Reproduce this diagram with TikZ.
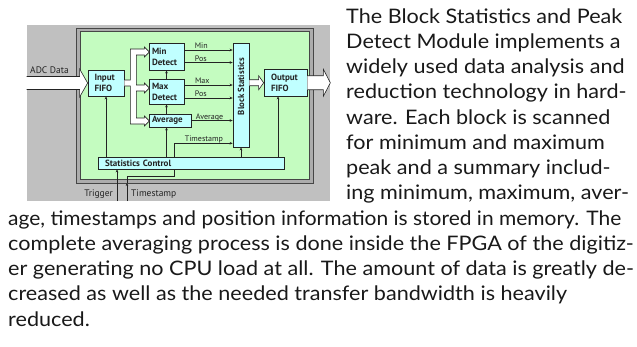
\documentclass[tikz,border=0pt]{standalone}
\usepackage{fontspec}
\usepackage{graphicx}
\newfontfamily\bodyfont{Lato}
\newfontfamily\diafont{PT Sans}
\usetikzlibrary{arrows.meta,calc,backgrounds}
\definecolor{panelgray}{RGB}{192,192,192}
\definecolor{framegray}{RGB}{172,172,172}
\definecolor{frameline}{RGB}{70,70,70}
\definecolor{boardgreen}{RGB}{196,252,192}
\definecolor{blockcyan}{RGB}{192,255,255}
\definecolor{ink}{RGB}{35,35,35}
% description lines: slightly widened, or set to a given width
\newcommand{\bodyline}[1]{\scalebox{1.08}[1]{#1}}
\newcommand{\bodyfit}[2]{\resizebox{#1pt}{\height}{#2}}
\begin{document}
\begin{tikzpicture}[x=1pt,y=-1pt,
  blk/.style={draw=ink, line width=0.7pt, fill=blockcyan, inner ysep=0pt,
    align=left, text=ink, font=\diafont\bfseries\fontsize{9}{11}\selectfont},
  conn/.style={draw=ink, line width=0.6pt, -{Stealth[length=3pt,width=2.6pt]}},
  wire/.style={draw=ink, line width=0.6pt},
  sig/.style={font=\diafont\fontsize{8}{9}\selectfont, text=ink, anchor=base,
    inner sep=0pt, yshift=1.5pt},
  wide/.style={draw=ink, line width=0.6pt, fill=white, line join=miter},
  extlabel/.style={font=\diafont\fontsize{9.5}{11}\selectfont, text=ink, inner sep=0pt},
  body/.style={font=\bodyfont\fontsize{20}{24}\selectfont, anchor=base west,
    inner sep=0pt, text=black!90}]
\useasboundingbox (0,0) rectangle (637,346);

% processing blocks
\node[blk, minimum height=26pt, inner xsep=6.5pt, text width=23pt] (ififo) at (106,83) {Input\\FIFO};
\node[blk, minimum height=27pt, inner xsep=3pt, text width=29pt] (mindet) at (166.5,56.5) {Min\\Detect};
\node[blk, minimum height=25pt, inner xsep=3pt, text width=29pt] (maxdet) at (166.5,91.5) {Max\\Detect};
\node[blk, minimum height=13pt, inner xsep=3pt, text width=36pt] (avg) at (170,120.5) {Average};
\node[blk, minimum height=26.5pt, inner xsep=7pt, text width=29pt] (ofifo) at (285.5,82.75) {Output\\FIFO};
\node[blk, minimum height=12pt, inner xsep=7pt, text width=172pt] (sctrl) at (191,163) {Statistics Control};
\node[blk, minimum width=16pt, minimum height=104pt, inner sep=0pt] (bstat) at (241,95) {};
\node[font=\diafont\bfseries\fontsize{8.8}{10}\selectfont, text=ink, rotate=90, inner sep=0pt]
  (bstatlabel) at ($(bstat.center)+(0,-8.5)$) {Block Statistics};

% panel and board
\begin{pgfonlayer}{background}
  \fill[panelgray] (27,25) rectangle (330,201);
  \filldraw[fill=framegray, draw=frameline, line width=0.6pt] (76,28) rectangle (313,183);
  \filldraw[fill=boardgreen, draw=frameline, line width=0.6pt] (80,31.5) rectangle (309,179.5);
\end{pgfonlayer}

% result signals into the statistics block
\draw[conn] ([yshift=6.5pt]mindet.east) -- ([yshift=6.5pt]mindet.east -| bstat.west)
  node[sig, pos=0.35] {Min};
\draw[conn] ([yshift=-6pt]mindet.east) -- ([yshift=-6pt]mindet.east -| bstat.west)
  node[sig, pos=0.34] {Pos};
\draw[conn] ([yshift=6.5pt]maxdet.east) -- ([yshift=6.5pt]maxdet.east -| bstat.west)
  node[sig, pos=0.37] {Max};
\draw[conn] ([yshift=-6.5pt]maxdet.east) -- ([yshift=-6.5pt]maxdet.east -| bstat.west)
  node[sig, pos=0.34] {Pos};
\draw[conn] (avg.east) -- (avg.east -| bstat.west)
  node[sig, pos=0.44] {Average};
\coordinate (tsup) at ([xshift=-17pt]sctrl.north);
\draw[conn] (tsup) |- ([yshift=-48.3pt]bstat.west)
  node[sig, pos=0.755] {Timestamp};

% control paths
\draw[conn] (maxdet.north) -- (mindet.south);
\draw[conn] (avg.north -| maxdet.south) -- (maxdet.south);
\draw[conn] (sctrl.north -| maxdet.south) -- (avg.south -| maxdet.south);
\draw[conn] (sctrl.north -| ififo.south) -- (ififo.south);
\draw[conn] (sctrl.north -| bstat.south) -- (bstat.south);
\coordinate (ofin) at ([xshift=-7.5pt]ofifo.south);
\draw[conn] (sctrl.north -| ofin) -- (ofin);

% external trigger and timestamp inputs
\coordinate (trigsrc) at (117,201);
\draw[conn] (trigsrc) -- (trigsrc |- sctrl.south);
\coordinate (tssrc) at (127,201);
\coordinate (tsframe) at (127,183);
\draw[conn] (tssrc) -- (tsframe);
\coordinate (tsdown) at ([xshift=-17pt]sctrl.south);
\draw[wire] (tsframe) -- ++(0,-7) -| (tsdown);

% wide data paths
\filldraw[wide] ($(ififo.west)+(-61,-6.5)$) -- ($(ififo.west)+(-8,-6.5)$)
  -- ($(ififo.west)+(-8,-14)$) -- (ififo.west) -- ($(ififo.west)+(-8,14)$)
  -- ($(ififo.west)+(-8,6.5)$) -- ($(ififo.west)+(-61,6.5)$);
\filldraw[wide] ($(ififo.east)+(0,-3)$) -- ($(ififo.east)+(6,-3)$)
  -- ($(ififo.east)+(6,-34)$) -- ($(ififo.east)+(20,-34)$) -- ($(ififo.east)+(20,-36)$)
  -- ($(ififo.east)+(25,-31)$) -- ($(ififo.east)+(20,-26)$) -- ($(ififo.east)+(20,-28)$)
  -- ($(ififo.east)+(12,-28)$) -- ($(ififo.east)+(12,2)$) -- ($(ififo.east)+(20,2)$)
  -- ($(ififo.east)+(20,0)$) -- ($(ififo.east)+(25,5)$) -- ($(ififo.east)+(20,10)$)
  -- ($(ififo.east)+(20,8)$) -- ($(ififo.east)+(12,8)$) -- ($(ififo.east)+(12,35)$)
  -- ($(ififo.east)+(20,35)$) -- ($(ififo.east)+(20,33)$) -- ($(ififo.east)+(25,38)$)
  -- ($(ififo.east)+(20,43)$) -- ($(ififo.east)+(20,41)$) -- ($(ififo.east)+(6,41)$)
  -- ($(ififo.east)+(6,3)$) -- ($(ififo.east)+(0,3)$);
\filldraw[wide] ($(ofifo.west -| bstat.east)+(0,-3)$) -- ($(ofifo.west)+(-5,-3)$)
  -- ($(ofifo.west)+(-5,-7)$) -- (ofifo.west) -- ($(ofifo.west)+(-5,7)$)
  -- ($(ofifo.west)+(-5,3)$) -- ($(ofifo.west -| bstat.east)+(0,3)$);
\filldraw[wide] ($(ofifo.east)+(0,-7)$) -- ($(ofifo.east)+(16,-7)$)
  -- ($(ofifo.east)+(16,-13.5)$) -- ($(ofifo.east)+(23,0)$) -- ($(ofifo.east)+(16,13.5)$)
  -- ($(ofifo.east)+(16,7)$) -- ($(ofifo.east)+(0,7)$);

% outside labels
\node[extlabel, anchor=base west] (adclabel) at (30,73.5) {ADC Data};
\node[extlabel, anchor=base east] (triglabel) at (113,196) {Trigger};
\node[extlabel, anchor=base west] (tslabel) at (131,196) {Timestamp};

% description
\node[body] (t1) at (346,23) {\bodyline{The Block Statistics and Peak}};
\node[body] (t2) at (346,48.25) {\bodyline{Detect Module implements a}};
\node[body] (t3) at (346,73.5) {\bodyline{widely used data analysis and}};
\node[body] (t4) at (346,98.75) {\bodyline{reduction technology in hard-}};
\node[body] (t5) at (346,124) {\bodyline{ware. Each block is scanned}};
\node[body] (t6) at (346,149.25) {\bodyline{for minimum and maximum}};
\node[body] (t7) at (346,174.5) {\bodyline{peak and a summary includ-}};
\node[body] (t8) at (346,199.75) {\bodyline{ing minimum, maximum, aver-}};
\node[body] (t9) at (8,225) {\bodyfit{613}{age, timestamps and position information is stored in memory. The}};
\node[body] (t10) at (8,250.25) {\bodyline{complete averaging process is done inside the FPGA of the digitiz-}};
\node[body] (t11) at (8,275.5) {\bodyline{er generating no CPU load at all. The amount of data is greatly de-}};
\node[body] (t12) at (8,300.75) {\bodyline{creased as well as the needed transfer bandwidth is heavily}};
\node[body] (t13) at (8,326) {\bodyline{reduced.}};
\end{tikzpicture}
\end{document}
